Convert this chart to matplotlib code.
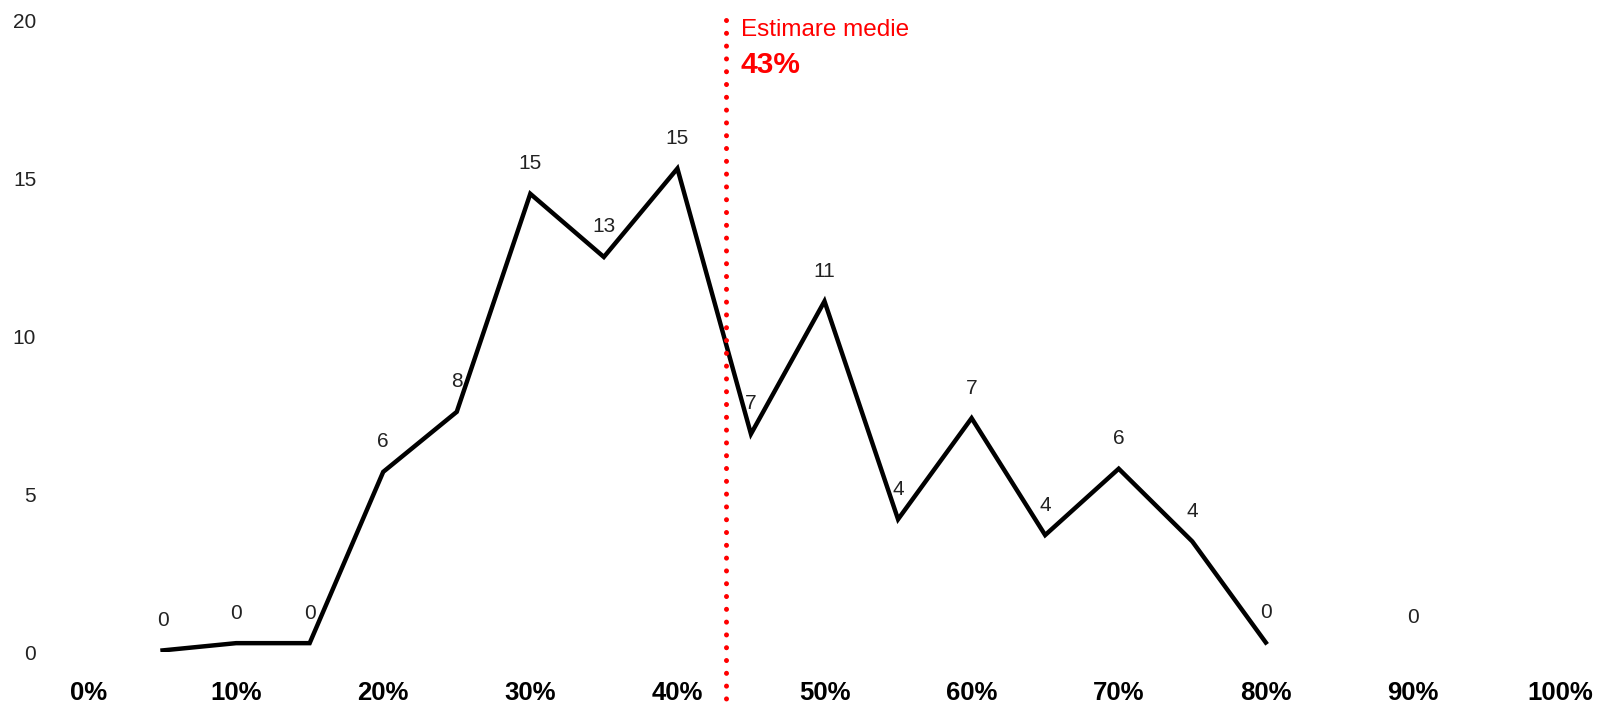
import numpy as np
import matplotlib
matplotlib.use("Agg")
import matplotlib.pyplot as plt

plt.rcParams['font.family'] = ['Liberation Sans', 'DejaVu Sans']

# share of respondents (%) for each estimate
x_pct = [5, 10, 15, 20, 25, 30, 35, 40, 45, 50, 55, 60, 65, 70, 75, 80, 85, 90]
values = [0.05, 0.28, 0.28, 5.7, 7.6, 14.5, 12.5, 15.3, 6.9, 11.1,
          4.2, 7.4, 3.7, 5.8, 3.5, 0.3, np.nan, 0.15]
point_labels = ["0", "0", "0", "6", "8", "15", "13", "15", "7", "11",
                "4", "7", "4", "6", "4", "0", "", "0"]

x_ticks = [0, 10, 20, 30, 40, 50, 60, 70, 80, 90, 100]
x_tick_labels = ["0%", "10%", "20%", "30%", "40%", "50%", "60%", "70%", "80%", "90%", "100%"]
y_ticks = [0, 5, 10, 15, 20]

mean_estimate = 43.3
mean_label = "Estimare medie"
mean_value_label = "43%"

fig = plt.figure(figsize=(15.99, 7.05), dpi=100)
ax = fig.add_axes([89 / 1599, 53 / 705, (1560 - 89) / 1599, (652 - 20) / 705])

ax.plot(x_pct, values, color="black", linewidth=3.2, solid_joinstyle="miter")

for x, v, lab in zip(x_pct, values, point_labels):
    if lab == "" or np.isnan(v):
        continue
    ax.annotate(lab, (x, v), xytext=(0, 30), textcoords="offset pixels",
                ha="center", va="center", fontsize=15, color="#222222")

# mean estimate marker
ax.plot([mean_estimate, mean_estimate], [20, -2.0], color="#ff0000",
        linewidth=3.6, linestyle=(0, (0.01, 2.55)), dash_capstyle="round",
        clip_on=False)
ax.annotate(mean_label, (mean_estimate, 20), xytext=(15, -10),
            textcoords="offset pixels", ha="left", va="center",
            fontsize=17.5, color="#ff0000")
ax.annotate(mean_value_label, (mean_estimate, 20), xytext=(15, -45),
            textcoords="offset pixels", ha="left", va="center",
            fontsize=21.5, fontweight="bold", color="#ff0000")

ax.set_xlim(0, 100)
ax.set_ylim(0, 20)
ax.set_xticks(x_ticks)
ax.set_xticklabels(x_tick_labels, fontsize=18.5, fontweight="bold")
ax.set_yticks(y_ticks)
ax.set_yticklabels([str(t) for t in y_ticks], fontsize=15, color="#222222")
ax.tick_params(axis="x", length=0, pad=21)
ax.tick_params(axis="y", length=0, pad=38)
for s in ax.spines.values():
    s.set_visible(False)

fig.savefig("out.png", dpi=100)
